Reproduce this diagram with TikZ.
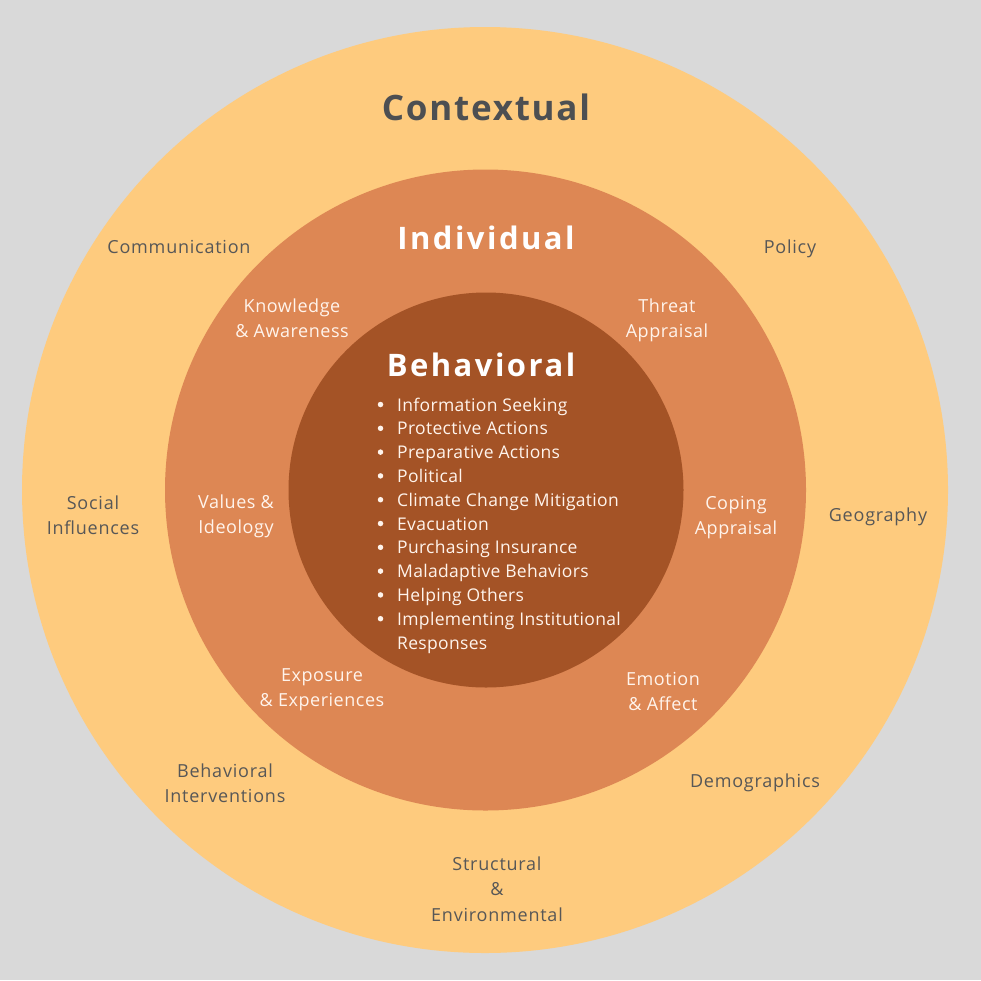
\documentclass[tikz,border=0pt]{standalone}
\usepackage{fontspec}
\setmainfont{Open Sans}
\newfontfamily\ttlfontA[LetterSpace=5]{Open Sans}
\newfontfamily\ttlfontB[LetterSpace=8]{Open Sans}
\newfontfamily\outfont[LetterSpace=4.3]{Open Sans}
\newfontfamily\infont[LetterSpace=3]{Open Sans}
\newfontfamily\itemfont[LetterSpace=1.8]{Open Sans}
\definecolor{bg}{HTML}{D9D9D9}
\definecolor{outerc}{HTML}{FECB7E}
\definecolor{midc}{HTML}{DD8754}
\definecolor{innerc}{HTML}{A45326}
\definecolor{darktxt}{HTML}{575757}
\definecolor{titletxt}{HTML}{4D4F52}
\definecolor{lighttxt}{HTML}{FFF4EC}
\begin{document}
\begin{tikzpicture}[x=1pt,y=-1pt,
  ring/.style={circle,draw=none,inner sep=0pt},
  outerlbl/.style={align=center,text=darktxt,font=\outfont\fontsize{18}{25.5}\selectfont,inner sep=0pt},
  innerlbl/.style={align=center,text=lighttxt,font=\infont\fontsize{18}{25}\selectfont,inner sep=0pt},
  ttl/.style={font=\ttlfontB\fontsize{31}{36}\selectfont\bfseries,inner sep=0pt},
  item/.style={anchor=base west,text=lighttxt,font=\itemfont\fontsize{17.5}{23.8}\selectfont,inner sep=0pt},
  bul/.style={circle,fill=lighttxt,inner sep=0pt,minimum size=5.5pt}]
\useasboundingbox (0,0) rectangle (981,980);
\fill[bg] (0,0) rectangle (981,980);
\node[ring,fill=outerc,minimum size=926pt] (outer) at (485,490) {};
\node[ring,fill=midc,minimum size=641pt] (mid) at (485.5,490) {};
\node[ring,fill=innerc,minimum size=395pt] (inner) at (486,490) {};
% titles
\node[ttl,text=titletxt,font=\ttlfontA\fontsize{35}{40}\selectfont\bfseries] (tctx) at (486,107) {Contextual};
\node[ttl,text=white] (tind) at (486,238) {Individual};
\node[ttl,text=white] (tbeh) at (481,365) {Behavioral};
% contextual labels
\node[outerlbl] (comm) at (179,247) {Communication};
\node[outerlbl] (pol) at (790,249) {Policy};
\node[outerlbl] (soc) at (93,515) {Social\\Influences};
\node[outerlbl] (geo) at (878,517) {Geography};
\node[outerlbl] (bint) at (225,783) {Behavioral\\Interventions};
\node[outerlbl] (demo) at (755,783) {Demographics};
\node[outerlbl] (struct) at (497,889) {Structural\\\&\\Environmental};
% individual labels
\node[innerlbl] (know) at (292,318) {Knowledge\\\& Awareness};
\node[innerlbl] (threat) at (667,320) {Threat\\Appraisal};
\node[innerlbl] (val) at (236,516) {Values \&\\Ideology};
\node[innerlbl] (cope) at (736,518) {Coping\\Appraisal};
\node[innerlbl] (expo) at (322,690) {Exposure\\\& Experiences};
\node[innerlbl] (emo) at (663,691) {Emotion\\\& Affect};
% behavioral list
\foreach \t [count=\i from 0] in {Information Seeking,Protective Actions,Preparative Actions,Political,Climate Change Mitigation,Evacuation,Purchasing Insurance,Maladaptive Behaviors,Helping Others,Implementing Institutional}{
  \node[item] (it\i) at (397,411+23.8*\i) {\t};
  \node[bul] (bu\i) at (380.5,404.5+23.8*\i) {};
}
\node[item] (it10) at (397,411+23.8*10) {Responses};
\end{tikzpicture}
\end{document}
